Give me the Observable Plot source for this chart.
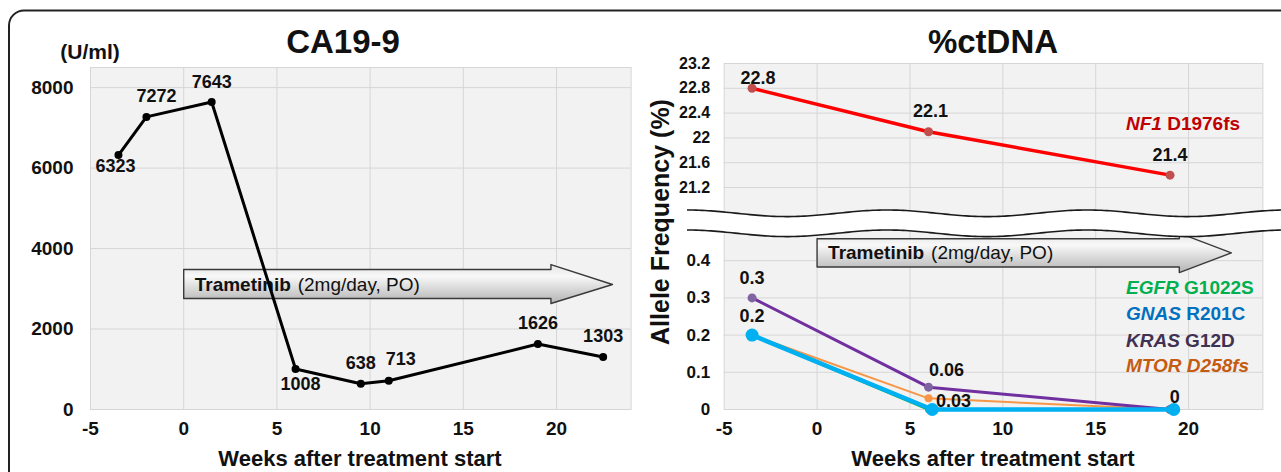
<!DOCTYPE html>
<html><head><meta charset="utf-8">
<script src="https://cdn.jsdelivr.net/npm/d3@7"></script>
<script src="https://cdn.jsdelivr.net/npm/@observablehq/plot@0.6"></script>
<style>
html,body{margin:0;padding:0;background:#fff;}
#wrap{position:relative;width:1281px;height:472px;overflow:hidden;background:#fff;font-family:"Liberation Sans",Arial,sans-serif;}
</style></head><body>
<svg width="0" height="0" style="position:absolute"><defs>
<linearGradient id="arrowGrad" x1="0" y1="0" x2="0" y2="1">
<stop offset="0" stop-color="#e4e4e4"/><stop offset="0.3" stop-color="#f8f8f8"/><stop offset="1" stop-color="#b3b3b3"/>
</linearGradient></defs></svg>
<div id="wrap"></div>
<script>
// ---------- DATA ----------
const caWeeks  = [-3.5, -2, 1.5, 6, 9.5, 11, 19, 22.5];
const caValues = [6323, 7272, 7643, 1008, 638, 713, 1626, 1303];
const caYTicks = [0, 2000, 4000, 6000, 8000];
const xTicks   = [-5, 0, 5, 10, 15, 20];

const dnaWeeks  = [-3.5, 6, 19];
const gnasWeeks = [-3.5, 6.2, 19.2];
const nf1  = [22.8, 22.1, 21.4];
const egfr = [0.2, 0, 0];
const gnas = [0.2, 0, 0];
const kras = [0.3, 0.06, 0];
const mtor = [0.2, 0.03, 0];
const upperTicks = [21.2, 21.6, 22, 22.4, 22.8, 23.2];
const lowerTicks = [0, 0.1, 0.2, 0.3, 0.4];

const drugName = "Trametinib";
const drugDose = "(2mg/day, PO)";

// ---------- STYLE / LAYOUT CONFIG ----------
const FONT = '"Liberation Sans", Arial, sans-serif';
const TXT = "#111";
const GRID = "#d6d6d6";
const caLabelOffsets = [[-3,11.5],[10,-21],[0,-20],[5,15],[0,-21],[12,-22],[0,-21],[0,-21]];
const nf1LabelOffsets = [[6,-10],[2,-20],[0,-20]];
// annotation arrow geometry (data units)
const arrowLeftGeo  = {start: 0, headBase: 19.7, tip: 23.0, bodyTop: 3478, bodyBottom: 2758, headTop: 3602, headBottom: 2634, mid: 3106};
const arrowRightGeo = {start: 0, headBase: 19.5, tip: 22.3, bodyTop: 0.459, bodyBottom: 0.383, headTop: 0.474, headBottom: 0.368, mid: 0.421};

function arrowPts(g) {
  return [[g.start,g.bodyTop],[g.headBase,g.bodyTop],[g.headBase,g.headTop],[g.tip,g.mid],
          [g.headBase,g.headBottom],[g.headBase,g.bodyBottom],[g.start,g.bodyBottom],[g.start,g.bodyTop]];
}
function arrowMarks(g) {
  return [
    Plot.line(arrowPts(g), {x: d => d[0], y: d => d[1], fill: "url(#arrowGrad)", stroke: "#3a3a3a", strokeWidth: 1.4, curve: "linear"}),
    Plot.text([g], {x: "start", y: "mid", text: () => drugName, dx: 11, textAnchor: "start", fontWeight: "bold", fontSize: 19, fontFamily: FONT, fill: TXT}),
    Plot.text([g], {x: "start", y: "mid", text: () => drugDose, dx: 114, textAnchor: "start", fontWeight: "normal", fontSize: 19, fontFamily: FONT, fill: TXT})
  ];
}

const wrap = document.getElementById("wrap");
function place(el, left) {
  el.style.position = "absolute"; el.style.left = left + "px"; el.style.top = "0px";
  el.style.background = "transparent"; el.style.overflow = "visible";
  wrap.appendChild(el);
}

// ---------- LEFT PANEL: CA19-9 ----------
const caData = caWeeks.map((w, i) => ({week: w, value: caValues[i]}));
const left = Plot.plot({
  width: 640, height: 472,
  marginLeft: 90, marginRight: 9.4, marginTop: 67, marginBottom: 63,
  x: {domain: [-5, 24], axis: null},
  y: {domain: [0, 8500], axis: null},
  style: {background: "transparent", overflow: "visible"},
  marks: [
    Plot.frame({fill: "#f2f2f2", stroke: GRID}),
    Plot.ruleX(xTicks.slice(1), {stroke: GRID, strokeWidth: 1}),
    Plot.ruleY(caYTicks.slice(1), {stroke: GRID, strokeWidth: 1}),
    ...arrowMarks(arrowLeftGeo),
    Plot.line(caData, {x: "week", y: "value", stroke: "#000", strokeWidth: 3}),
    Plot.dot(caData, {x: "week", y: "value", r: 4, fill: "#000", stroke: null}),
    ...caData.map((d, i) => Plot.text([d], {x: "week", y: "value", text: d => String(d.value),
        dx: caLabelOffsets[i][0], dy: caLabelOffsets[i][1], fontWeight: "bold", fontSize: 18, fontFamily: FONT, fill: TXT})),
    Plot.text(caYTicks, {y: d => d, frameAnchor: "left", dx: -17, textAnchor: "end", text: d => String(d),
        fontWeight: "bold", fontSize: 19, fontFamily: FONT, fill: TXT}),
    Plot.text(xTicks, {x: d => d, frameAnchor: "bottom", dy: 25, text: d => String(d),
        fontWeight: "bold", fontSize: 19, fontFamily: FONT, fill: TXT})
  ]
});
place(left, 0);

// ---------- RIGHT PANEL: %ctDNA (broken axis = two stacked plots) ----------
const mk = (xs, ys) => xs.map((w, i) => ({week: w, v: ys[i]}));
const nf1Data = mk(dnaWeeks, nf1), egfrData = mk(dnaWeeks, egfr), gnasData = mk(gnasWeeks, gnas),
      krasData = mk(dnaWeeks, kras), mtorData = mk(dnaWeeks, mtor);
const labelStyle = {fontWeight: "bold", fontSize: 18, fontFamily: FONT, fill: TXT};

const upper = Plot.plot({
  width: 641, height: 223,
  marginLeft: 83.7, marginRight: 18.6, marginTop: 63, marginBottom: 0,
  x: {domain: [-5, 24], axis: null},
  y: {domain: [20.62, 23.2], axis: null},
  style: {background: "transparent", overflow: "visible"},
  marks: [
    Plot.frame({fill: "#f2f2f2", stroke: GRID}),
    Plot.ruleX(xTicks.slice(1), {stroke: GRID, strokeWidth: 1}),
    Plot.ruleY(upperTicks.slice(0, -1), {stroke: GRID, strokeWidth: 1}),
    Plot.line(nf1Data, {x: "week", y: "v", stroke: "#ff0000", strokeWidth: 3.5}),
    Plot.dot(nf1Data, {x: "week", y: "v", r: 4.5, fill: "#c0504d", stroke: null}),
    ...nf1Data.map((d, i) => Plot.text([d], {x: "week", y: "v", text: d => String(d.v),
        dx: nf1LabelOffsets[i][0], dy: nf1LabelOffsets[i][1], ...labelStyle})),
    Plot.text(upperTicks, {y: d => d, frameAnchor: "left", dx: -14, textAnchor: "end", text: d => String(d),
        fontWeight: "bold", fontSize: 16, fontFamily: FONT, fill: TXT})
  ]
});
place(upper, 640);

const lower = Plot.plot({
  width: 641, height: 472,
  marginLeft: 83.7, marginRight: 18.6, marginTop: 223, marginBottom: 63,
  x: {domain: [-5, 24], axis: null},
  y: {domain: [0, 0.5], axis: null},
  style: {background: "transparent", overflow: "visible"},
  marks: [
    Plot.frame({fill: "#f2f2f2", stroke: GRID}),
    Plot.ruleX(xTicks.slice(1), {stroke: GRID, strokeWidth: 1}),
    Plot.ruleY(lowerTicks.slice(1), {stroke: GRID, strokeWidth: 1}),
    ...arrowMarks(arrowRightGeo),
    Plot.line(egfrData, {x: "week", y: "v", stroke: "#00b050", strokeWidth: 2.5}),
    Plot.dot(egfrData, {x: "week", y: "v", r: 3.5, fill: "#00b050", stroke: null}),
    Plot.line(mtorData, {x: "week", y: "v", stroke: "#f79646", strokeWidth: 2}),
    Plot.dot(mtorData, {x: "week", y: "v", r: 4, fill: "#f79646", stroke: null}),
    Plot.line(krasData, {x: "week", y: "v", stroke: "#7030a0", strokeWidth: 3}),
    Plot.dot(krasData, {x: "week", y: "v", r: 4.5, fill: "#8064a2", stroke: null}),
    Plot.line(gnasData, {x: "week", y: "v", stroke: "#00b0f0", strokeWidth: 4.5}),
    Plot.dot(gnasData, {x: "week", y: "v", r: 6.5, fill: "#00b0f0", stroke: null}),
    Plot.text([krasData[0]], {x: "week", y: "v", text: d => String(d.v), dy: -20, ...labelStyle}),
    Plot.text([gnasData[0]], {x: "week", y: "v", text: d => String(d.v), dy: -19, ...labelStyle}),
    Plot.text([krasData[1]], {x: "week", y: "v", text: d => String(d.v), dx: 18, dy: -17, ...labelStyle}),
    Plot.text([mtorData[1]], {x: "week", y: "v", text: d => String(d.v), dx: 25, dy: 3, ...labelStyle}),
    Plot.text([gnasData[2]], {x: "week", y: "v", text: d => String(d.v), dx: 1, dy: -12, ...labelStyle}),
    Plot.text(lowerTicks, {y: d => d, frameAnchor: "left", dx: -14, textAnchor: "end", text: d => String(d),
        fontWeight: "bold", fontSize: 17, fontFamily: FONT, fill: TXT}),
    Plot.text(xTicks, {x: d => d, frameAnchor: "bottom", dy: 25, text: d => String(d),
        fontWeight: "bold", fontSize: 19, fontFamily: FONT, fill: TXT})
  ]
});
place(lower, 640);

// ---------- OVERLAY: frame, titles, legend, axis break ----------
const ov = d3.select(wrap).append("svg")
  .attr("width", 1281).attr("height", 472)
  .style("position", "absolute").style("left", "0px").style("top", "0px")
  .style("pointer-events", "none").style("font-family", FONT);

// axis break band
const waveTop = [], waveBot = [];
for (let x = 687; x <= 1283; x += 3) {
  const c = Math.cos(2 * Math.PI * (x - 687) / 200);
  waveTop.push([x, 213.3 - 3.3 * c]);
  waveBot.push([x, 233.3 - 3.3 * c]);
}
const ln = d3.line();
ov.append("path").attr("d", ln(waveTop.concat(waveBot.slice().reverse())) + "Z").attr("fill", "#fff");
ov.append("path").attr("d", ln(waveTop)).attr("fill", "none").attr("stroke", "#1a1a1a").attr("stroke-width", 1.6);
ov.append("path").attr("d", ln(waveBot)).attr("fill", "none").attr("stroke", "#1a1a1a").attr("stroke-width", 1.6);

// outer rounded frame
ov.append("rect").attr("x", 9).attr("y", 10.5).attr("width", 1300).attr("height", 500).attr("rx", 15)
  .attr("fill", "none").attr("stroke", "#222").attr("stroke-width", 2);

function txt(x, y, size, opts = {}) {
  const t = ov.append("text").attr("x", x).attr("y", y).attr("font-size", size)
    .attr("font-weight", opts.weight || "bold").attr("fill", opts.fill || TXT)
    .attr("text-anchor", opts.anchor || "middle");
  if (opts.transform) t.attr("transform", opts.transform);
  return t;
}
txt(343, 53, 33).text("CA19-9");
txt(993, 53, 33).text("%ctDNA");
txt(90, 59, 21).text("(U/ml)");
txt(360, 466, 22).text("Weeks after treatment start");
txt(993, 466, 22).text("Weeks after treatment start");
txt(0, 0, 25, {transform: "translate(669,222) rotate(-90)"}).text("Allele Frequency (%)");

function legend(x, y, gene, variant, color, variantItalic) {
  const t = txt(x, y, 19, {anchor: "start", fill: color});
  t.append("tspan").attr("font-style", "italic").text(gene);
  t.append("tspan").attr("font-style", variantItalic ? "italic" : "normal").text(" " + variant);
}
legend(1126, 130, "NF1", "D1976fs", "#c00000", false);
legend(1126, 294, "EGFR", "G1022S", "#00b050", false);
legend(1126, 320, "GNAS", "R201C", "#0070c0", false);
legend(1126, 347, "KRAS", "G12D", "#403151", false);
legend(1126, 372, "MTOR", "D258fs", "#c55a11", true);
</script>
</body></html>
